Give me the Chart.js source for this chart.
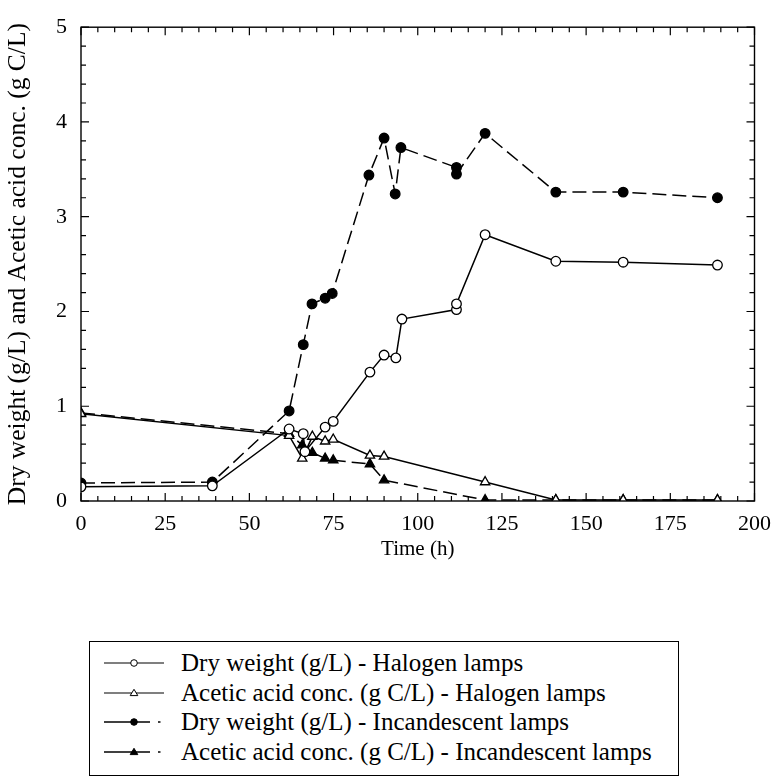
<!DOCTYPE html>
<html>
<head>
<meta charset="utf-8">
<script src="https://cdn.jsdelivr.net/npm/chart.js@4/dist/chart.umd.min.js"></script>
<style>
  html, body { margin: 0; padding: 0; background: #fff; }
  #wrap { position: relative; width: 781px; height: 778px; overflow: hidden; }
  #c { position: absolute; left: 0; top: 0; }
  #legend { position: absolute; left: 89px; top: 641px; width: 590px; height: 135px;
            border: 1.5px solid #000; box-sizing: border-box; font-family: "Liberation Serif", serif;
            font-size: 25px; color: #000; }
  .row { position: absolute; left: 0; height: 30px; width: 580px; }
  .row svg { position: absolute; left: 14px; top: 9px; }
  .row span { position: absolute; left: 91px; top: 0; white-space: nowrap; line-height: 30px; }
</style>
</head>
<body>
<div id="wrap">
  <canvas id="c" width="781" height="570"></canvas>
  <div id="legend"></div>
</div>
<script>
// ---- data ----
const xTickLabels = [0, 25, 50, 75, 100, 125, 150, 175, 200];
const yTickLabels = [0, 1, 2, 3, 4, 5];

const haloDryHours = [0, 39, 61.8, 66, 66.5, 72.5, 74.9, 85.8, 90, 93.5, 95.3, 111.5, 111.5, 120, 141, 161, 189];
const haloDryValues = [0.15, 0.16, 0.76, 0.71, 0.52, 0.78, 0.84, 1.36, 1.54, 1.51, 1.92, 2.02, 2.08, 2.81, 2.53, 2.52, 2.49];

const haloAcidHours = [0, 61.8, 65.7, 68.7, 72.5, 74.9, 85.8, 90, 120, 141, 161, 189];
const haloAcidValues = [0.92, 0.69, 0.45, 0.68, 0.63, 0.65, 0.48, 0.47, 0.20, 0.01, 0.01, 0.01];

const incDryHours = [0, 39, 61.8, 66, 68.6, 72.5, 74.6, 85.5, 90, 93.3, 95, 111.5, 111.5, 120, 141, 161, 189];
const incDryValues = [0.19, 0.20, 0.95, 1.65, 2.08, 2.14, 2.19, 3.44, 3.83, 3.24, 3.73, 3.52, 3.45, 3.88, 3.26, 3.26, 3.20];

const incAcidHours = [0, 61.8, 65.7, 68.7, 72.5, 74.9, 85.8, 90, 120, 141, 161, 189];
const incAcidValues = [0.93, 0.71, 0.59, 0.51, 0.45, 0.43, 0.39, 0.22, 0.01, 0.01, 0.01, 0.01];

const seriesNames = [
  "Dry weight (g/L) - Halogen lamps",
  "Acetic acid conc. (g C/L) - Halogen lamps",
  "Dry weight (g/L) - Incandescent lamps",
  "Acetic acid conc. (g C/L) - Incandescent lamps"
];
const xTitle = "Time (h)";
const yTitle = "Dry weight (g/L) and Acetic acid conc. (g C/L)";

// ---- build ----
const pts = (xs, ys) => xs.map((x, i) => ({ x: x, y: ys[i] }));
const FONT = '"Liberation Serif", serif';
const DASH = [14, 6];

function ds(label, xs, ys, style, filled, dashed) {
  return {
    label, data: pts(xs, ys), showLine: true,
    borderColor: '#000', borderWidth: 1.5, borderDash: dashed ? DASH : [],
    pointStyle: style, pointRadius: style === 'triangle' ? 5.4 : 4.8,
    pointBackgroundColor: filled ? '#000' : '#fff', pointBorderColor: '#000', pointBorderWidth: 1.3,
    tension: 0
  };
}

const frameTicks = {
  id: 'frameTicks',
  afterDraw(chart) {
    const { ctx, chartArea: a, scales: { x, y } } = chart;
    ctx.save();
    ctx.strokeStyle = '#000';
    ctx.lineWidth = 1.4;
    ctx.strokeRect(a.left, a.top, a.right - a.left, a.bottom - a.top);
    ctx.lineWidth = 1.2;
    ctx.beginPath();
    for (let i = 0; i <= 40; i++) {
      const v = i * 5;
      const px = x.getPixelForValue(v);
      const len = (i % 5 === 0) ? 8 : 5;
      ctx.moveTo(px, a.bottom); ctx.lineTo(px, a.bottom - len);
      ctx.moveTo(px, a.top); ctx.lineTo(px, a.top + len);
    }
    for (let i = 0; i <= 25; i++) {
      const v = i * 0.2;
      const py = y.getPixelForValue(v);
      const len = (i % 5 === 0) ? 8 : 5;
      ctx.moveTo(a.left, py); ctx.lineTo(a.left + len, py);
      ctx.moveTo(a.right, py); ctx.lineTo(a.right - len, py);
    }
    ctx.stroke();
    ctx.restore();
  }
};

function draw() {
  Chart.defaults.font.family = FONT;
  new Chart(document.getElementById('c'), {
    type: 'scatter',
    data: {
      datasets: [
        ds(seriesNames[0], haloDryHours, haloDryValues, 'circle', false, false),
        ds(seriesNames[1], haloAcidHours, haloAcidValues, 'triangle', false, false),
        ds(seriesNames[2], incDryHours, incDryValues, 'circle', true, true),
        ds(seriesNames[3], incAcidHours, incAcidValues, 'triangle', true, true)
      ]
    },
    options: {
      responsive: false, animation: false,
      layout: { padding: { left: 0, top: 13, right: 24, bottom: 0 } },
      plugins: { legend: { display: false }, tooltip: { enabled: false } },
      scales: {
        x: {
          type: 'linear', min: 0, max: 200,
          afterFit(s) { s.height = 69; },
          afterBuildTicks(s) { s.ticks = xTickLabels.map(v => ({ value: v })); },
          grid: { display: false, drawTicks: false },
          border: { display: false },
          ticks: { color: '#000', font: { family: FONT, size: 22 }, padding: 10, maxRotation: 0 },
          title: { display: true, text: xTitle, color: '#000', font: { family: FONT, size: 21 }, padding: { top: 0, bottom: 8 } }
        },
        y: {
          type: 'linear', min: 0, max: 5,
          afterFit(s) { s.width = 81; },
          afterBuildTicks(s) { s.ticks = yTickLabels.map(v => ({ value: v })); },
          grid: { display: false, drawTicks: false },
          border: { display: false },
          ticks: { color: '#000', font: { family: FONT, size: 22 }, padding: 14 },
          title: { display: true, text: yTitle, color: '#000', font: { family: FONT, size: 25.5 }, padding: { top: 3, bottom: 0 } }
        }
      }
    },
    plugins: [frameTicks]
  });
}

// ---- HTML legend ----
const legendStyles = [
  { filled: false, tri: false, dashed: false },
  { filled: false, tri: true, dashed: false },
  { filled: true, tri: false, dashed: true },
  { filled: true, tri: true, dashed: true }
];
const leg = document.getElementById('legend');
seriesNames.forEach((name, i) => {
  const st = legendStyles[i];
  const row = document.createElement('div');
  row.className = 'row';
  row.style.top = (6 + i * 29.7) + 'px';
  const fill = st.filled ? '#000' : '#fff';
  const marker = st.tri
    ? `<polygon points="30,2.3 33.8,8.6 26.2,8.6" fill="${fill}" stroke="#000" stroke-width="1"/>`
    : `<circle cx="30" cy="6" r="3.3" fill="${fill}" stroke="#000" stroke-width="1"/>`;
  const line = st.dashed
    ? `<line x1="0" y1="6" x2="46" y2="6" stroke="#000" stroke-width="1.5"/><line x1="54" y1="6" x2="56.5" y2="6" stroke="#000" stroke-width="1.5"/>`
    : `<line x1="0" y1="6" x2="60" y2="6" stroke="#000" stroke-width="1.2"/>`;
  row.innerHTML = `<svg width="62" height="12">${line}${marker}</svg><span>${name}</span>`;
  leg.appendChild(row);
});

if (document.fonts && document.fonts.load) {
  document.fonts.load('20px "Liberation Serif"').then(draw, draw);
} else { draw(); }
</script>
</body>
</html>
